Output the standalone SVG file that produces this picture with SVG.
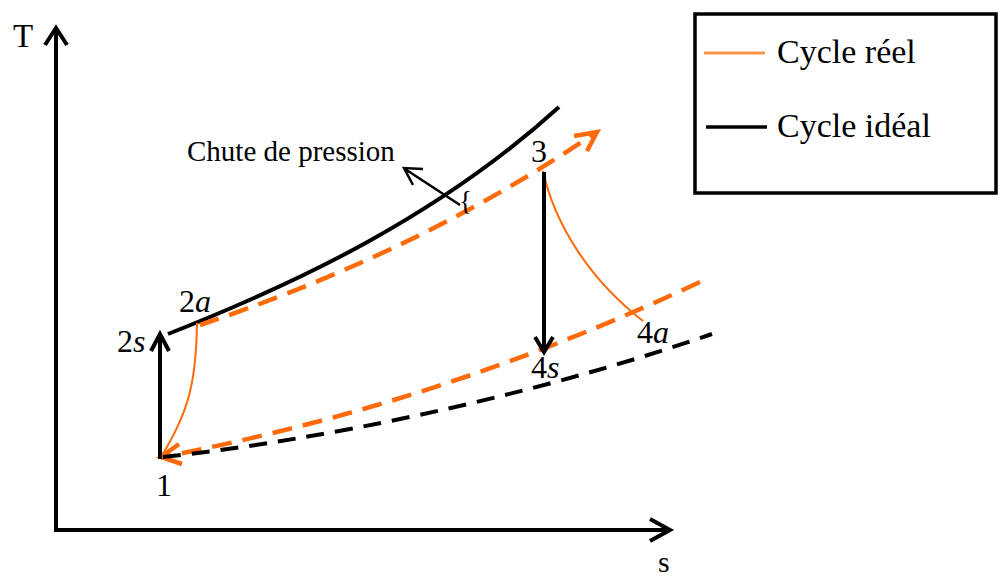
<svg xmlns="http://www.w3.org/2000/svg" width="1000" height="576" viewBox="0 0 1000 576">
<style>
text{font-family:"Liberation Serif","Times New Roman",serif;fill:#000}
.lbl{font-size:32px}
.ax{fill:none;stroke:#000;stroke-width:4;stroke-linecap:butt;stroke-linejoin:miter}
.solid{fill:none;stroke:#000;stroke-width:4}
.odash{fill:none;stroke:#ff6a0a;stroke-width:4.5;stroke-dasharray:20 11}
.kdash{fill:none;stroke:#000;stroke-width:4;stroke-dasharray:18 11}
.othin{fill:none;stroke:#ff6a0a;stroke-width:2}
.ohead{fill:none;stroke:#ff6a0a;stroke-width:4.5}
.khead{fill:none;stroke:#000;stroke-width:4}
</style>
<rect width="1000" height="576" fill="#fff"/>
<g id="axes">
<line class="ax" x1="56" y1="532" x2="56" y2="29"/>
<polyline class="ax" points="45,45 56,28 67,45"/>
<line class="ax" x1="54" y1="530" x2="669" y2="530"/>
<polyline class="ax" points="650,519 670,530 650,541"/>
<text x="13" y="47" style="font-size:33px">T</text>
<text x="658" y="572" style="font-size:30px">s</text>
</g>
<g id="connectors">
<path class="solid" d="M168,334 C300,282 440,215 559,107"/>
<path class="odash" d="M200,325 C320,285 460,225 595,133"/>
<polyline class="ohead" points="574,136 597,132 587,151"/>
<path class="odash" d="M700,282 C480,385 300,430 163,457"/>
<polyline class="ohead" points="179,444 161,457 182,464"/>
<path class="kdash" d="M163,457 C320,440 520,400 712,334"/>
<path class="othin" d="M197,323 C196,380 190,410 161,457"/>
<path class="othin" d="M543,171 C555,225 590,280 643,321"/>
<line class="khead" x1="160" y1="459" x2="160" y2="334"/>
<polyline class="khead" points="151,351 160,334 169,351"/>
<line class="khead" x1="544" y1="172" x2="544" y2="350"/>
<polyline class="khead" points="535,337 544,352 553,337"/>
<line stroke="#000" stroke-width="2.5" x1="460" y1="205" x2="405" y2="169"/>
<polyline fill="none" stroke="#000" stroke-width="2.5" points="413,185 404,168 423,169"/>
</g>
<g id="labels">
<text x="187" y="161" style="font-size:29px">Chute de pression</text>
<text x="459" y="210" style="font-size:27px">{</text>
<text x="117" y="352" class="lbl">2<tspan font-style="italic">s</tspan></text>
<text x="179" y="312" class="lbl">2<tspan font-style="italic">a</tspan></text>
<text x="156" y="496" class="lbl">1</text>
<text x="531" y="162" class="lbl">3</text>
<text x="531" y="378" class="lbl">4<tspan font-style="italic">s</tspan></text>
<text x="637" y="343" class="lbl">4<tspan font-style="italic">a</tspan></text>
</g>
<g id="legend">
<rect x="695" y="14" width="301" height="179" fill="#fff" stroke="#000" stroke-width="3.5"/>
<line x1="704" y1="53" x2="765" y2="53" stroke="#f79646" stroke-width="3"/>
<text x="777" y="63" style="font-size:34px">Cycle réel</text>
<line x1="706" y1="127" x2="767" y2="127" stroke="#000" stroke-width="3.5"/>
<text x="777" y="137" style="font-size:34px">Cycle idéal</text>
</g>
</svg>
